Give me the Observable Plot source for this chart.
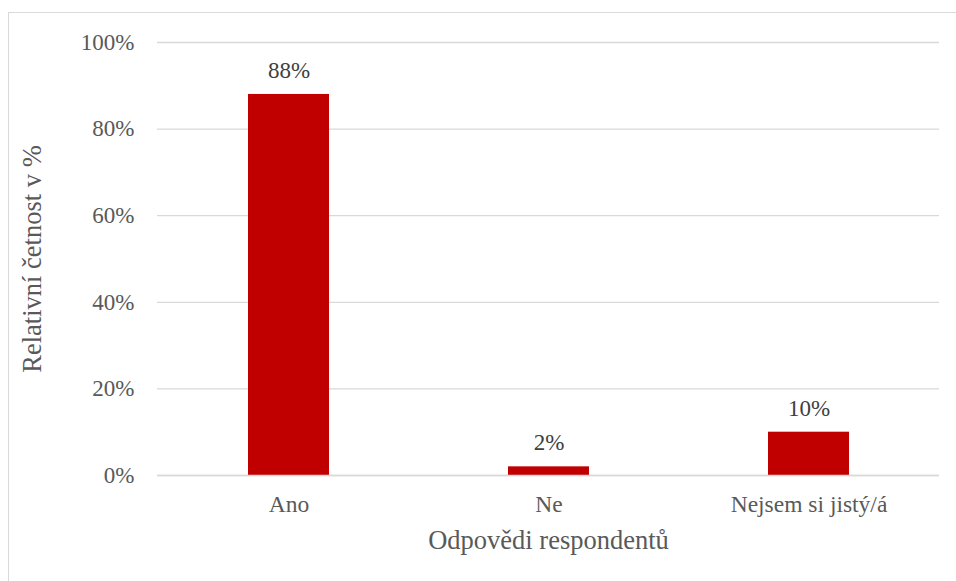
<!DOCTYPE html>
<html>
<head>
<meta charset="utf-8">
<script src="https://cdn.jsdelivr.net/npm/d3@7"></script>
<script src="https://cdn.jsdelivr.net/npm/@observablehq/plot@0.6"></script>
<style>
  html, body { margin: 0; padding: 0; background: #fff; }
  #wrap { position: relative; width: 956px; height: 581px; overflow: hidden; }
  #border { position: absolute; left: 8px; top: 12px; width: 960px; height: 600px; border: 1px solid #d9d9d9; box-sizing: border-box; }
  #chart { position: absolute; left: 0; top: 0; }
  #chart svg, #chart svg text, #chart svg g { font-family: "Liberation Serif", serif !important; }
</style>
</head>
<body>
<div id="wrap"><div id="border"></div><div id="chart"></div></div>
<script>
const categories = ["Ano", "Ne", "Nejsem si jistý/á"];
const values = [88, 2, 10];
const yTicks = [0, 20, 40, 60, 80, 100];

const data = categories.map((c, i) => ({ category: c, value: values[i] }));
const serif = "Liberation Serif";

const plot = Plot.plot({
  width: 956,
  height: 581,
  marginLeft: 157,
  marginRight: 17,
  marginTop: 42,
  marginBottom: 106,
  style: "font-family: 'Liberation Serif', serif; font-size: 23px; color: #595959; background: transparent;",
  x: { domain: categories, paddingInner: 0.69, paddingOuter: 0.345, align: 0.5, label: null },
  y: { domain: [0, 100], label: null },
  marks: [
    Plot.gridY(yTicks, { stroke: "#d9d9d9", strokeOpacity: 1, strokeWidth: 1.3 }),
    Plot.barY(data, { x: "category", y: "value", fill: "#C00000" }),
    Plot.ruleY([0], { stroke: "#d9d9d9", strokeWidth: 1.3 }),
    Plot.axisY(yTicks, { tickSize: 0, tickPadding: 23, tickFormat: d => d + "%", fontSize: 23, fontFamily: serif, fontVariant: "normal", fill: "#595959", label: null }),
    Plot.axisX({ tickSize: 0, tickPadding: 20, fontSize: 23.5, fontFamily: serif, fill: "#595959", label: null }),
    Plot.text(data, { x: "category", y: "value", text: d => d.value + "%", lineAnchor: "middle", dy: -24, fontSize: 23, fontFamily: serif, fill: "#404040" }),
    Plot.text(["Odpovědi respondentů"], { frameAnchor: "bottom", dy: 65, fontSize: 26.5, fontFamily: serif, fill: "#595959", lineAnchor: "middle", textAnchor: "middle" }),
    Plot.text(["Relativní četnost v %"], { frameAnchor: "left", dx: -125, rotate: -90, fontSize: 26.5, fontFamily: serif, fill: "#595959", lineAnchor: "middle", textAnchor: "middle" })
  ]
});
document.getElementById("chart").appendChild(plot);
</script>
</body>
</html>
